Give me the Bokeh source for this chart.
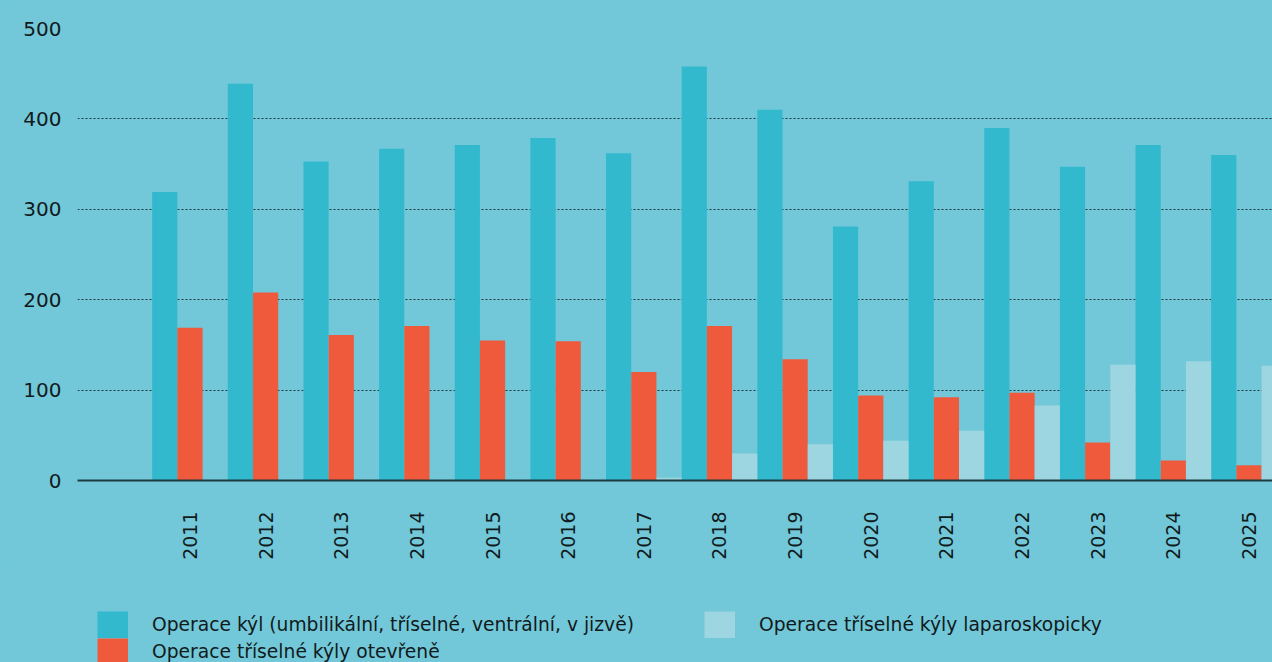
import numpy as np
from bokeh.plotting import figure
from bokeh.layouts import column
from bokeh.models import (ColumnDataSource, Legend, LegendItem, Range1d, FixedTicker)
from bokeh.transform import dodge
from bokeh.embed import file_html
from bokeh.resources import INLINE

# ---- data ----
years = [2011, 2012, 2013, 2014, 2015, 2016, 2017, 2018, 2019, 2020, 2021, 2022, 2023, 2024, 2025]
kyly = [319, 439, 353, 367, 371, 379, 362, 458, 410, 281, 331, 390, 347, 371, 360]
otevrene = [169, 208, 161, 171, 155, 154, 120, 171, 134, 94, 92, 97, 42, 22, 17]
laparo = [0, 0, 0, 0, 0, 0, 3, 30, 40, 44, 55, 83, 128, 132, 127]
y_ticks = [0, 100, 200, 300, 400, 500]
series_labels = [
    "Operace kýl (umbilikální, tříselné, ventrální, v jizvě)",
    "Operace tříselné kýly otevřeně",
    "Operace tříselné kýly laparoskopicky",
]

BG = "#72c8d8"
TEAL = "#33b9ce"
RED = "#ef5a3c"
LIGHT = "#9dd6e0"
INK = "#111a1c"
NUM_FONT = "DejaVu Sans"
TXT_FONT = "DejaVu Sans"

src = ColumnDataSource(dict(year=years, kyly=kyly, otevrene=otevrene, laparo=laparo))

p = figure(width=1272, height=562, output_backend="svg", toolbar_location=None,
           x_range=Range1d(2009.513, 2025.311), y_range=Range1d(0, 500),
           min_border_left=77, min_border_right=0, min_border_top=28, min_border_bottom=82)
p.background_fill_color = BG
p.border_fill_color = BG
p.outline_line_color = None

w = 1 / 3
r1 = p.vbar(x=dodge("year", -w), top="kyly", width=w, source=src,
            fill_color=TEAL, line_color=None)
r2 = p.vbar(x="year", top="otevrene", width=w, source=src,
            fill_color=RED, line_color=None)
r3 = p.vbar(x=dodge("year", w), top="laparo", width=w, source=src,
            fill_color=LIGHT, line_color=None)

# axes
p.xaxis.ticker = FixedTicker(ticks=years)
p.xaxis.major_label_orientation = np.pi / 2
p.xaxis.axis_line_color = "#1d3b41"
p.xaxis.axis_line_width = 2
p.xaxis.major_tick_line_color = None
p.xaxis.minor_tick_line_color = None
p.xaxis.major_label_standoff = 25
p.xaxis.major_label_text_font = NUM_FONT
p.xaxis.major_label_text_font_size = "19px"
p.xaxis.major_label_text_color = INK

p.yaxis.ticker = FixedTicker(ticks=y_ticks)
p.yaxis.axis_line_color = None
p.yaxis.major_tick_line_color = None
p.yaxis.minor_tick_line_color = None
p.yaxis.major_label_standoff = 10
p.yaxis.major_label_text_font = NUM_FONT
p.yaxis.major_label_text_font_size = "20px"
p.yaxis.major_label_text_color = INK

p.xgrid.grid_line_color = None
p.ygrid.ticker = FixedTicker(ticks=[100, 200, 300, 400, 500])
p.ygrid.grid_line_color = "#1d3b41"
p.ygrid.grid_line_dash = "2 2"
p.ygrid.grid_line_width = 1

# ---- legend strip below the chart ----
lg = figure(width=1272, height=100, output_backend="svg", toolbar_location=None,
            x_range=Range1d(0, 1), y_range=Range1d(0, 1),
            min_border_left=0, min_border_right=0, min_border_top=0, min_border_bottom=0)
lg.background_fill_color = BG
lg.border_fill_color = BG
lg.outline_line_color = None
lg.axis.visible = False
lg.grid.visible = False

# legend key proxies (no visible data; they only supply the square swatches)
nan = np.array([np.nan])
k1 = lg.line(x=nan, y=nan, line_color=TEAL, line_width=27, line_cap="butt")
k2 = lg.line(x=nan, y=nan, line_color=RED, line_width=27, line_cap="butt")
k3 = lg.line(x=nan, y=nan, line_color=LIGHT, line_width=27, line_cap="butt")

def make_legend(items, loc):
    return Legend(items=items, location=loc, orientation="vertical",
                  glyph_width=31, glyph_height=27, label_height=27,
                  spacing=0, padding=0, margin=0, label_standoff=24,
                  border_line_color=None, background_fill_alpha=0,
                  label_text_font=TXT_FONT, label_text_font_size="18.7px",
                  label_text_color=INK)

legA = make_legend([LegendItem(label=series_labels[0], renderers=[k1]),
                    LegendItem(label=series_labels[1], renderers=[k2])], (20, -3))
legB = make_legend([LegendItem(label=series_labels[2], renderers=[k3])], (627, 24))
lg.add_layout(legA)
lg.add_layout(legB)

layout = column(p, lg, spacing=0)

html = file_html(layout, INLINE)
html = html.replace("<head>", "<head><style>html,body{background:%s;}</style>" % BG, 1)
open("out.html", "w").write(html)
